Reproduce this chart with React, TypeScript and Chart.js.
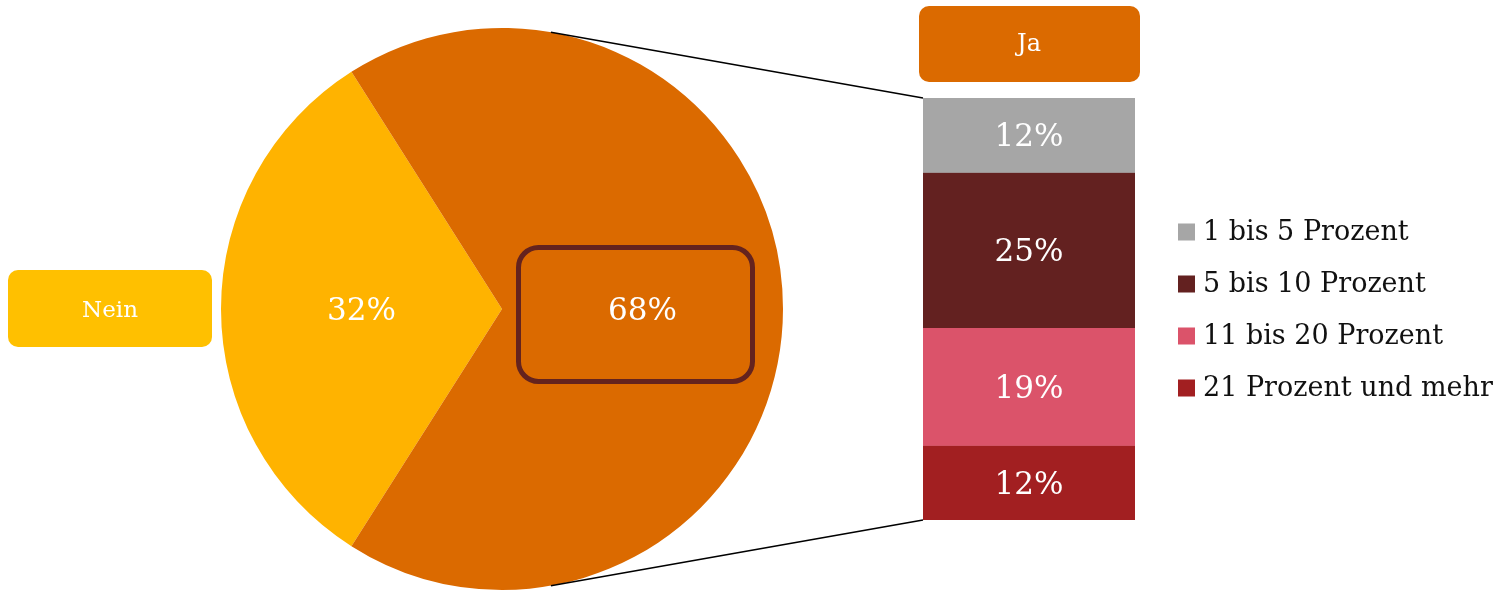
import React, { useEffect, useRef } from "react";
import { Chart, registerables } from "chart.js";

Chart.register(...registerables);

// ---- data ----
const pieLabels = ["Nein", "Ja"];
const pieValues = [32, 68];
const pieColors = ["#FFB300", "#DB6A00"];

const barCategory = ["Ja"];
const barLabels = ["1 bis 5 Prozent", "5 bis 10 Prozent", "11 bis 20 Prozent", "21 Prozent und mehr"];
const barValues = [12, 25, 19, 12];
const barColors = ["#A6A6A6", "#632120", "#DB536A", "#A21F21"];

const FONT = "'DejaVu Serif', 'Liberation Serif', serif";
const W = 1502;
const H = 590;

function roundRect(ctx: CanvasRenderingContext2D, x: number, y: number, w: number, h: number, r: number) {
  ctx.beginPath();
  ctx.moveTo(x + r, y);
  ctx.lineTo(x + w - r, y);
  ctx.arcTo(x + w, y, x + w, y + r, r);
  ctx.lineTo(x + w, y + h - r);
  ctx.arcTo(x + w, y + h, x + w - r, y + h, r);
  ctx.lineTo(x + r, y + h);
  ctx.arcTo(x, y + h, x, y + h - r, r);
  ctx.lineTo(x, y + r);
  ctx.arcTo(x, y, x + r, y, r);
  ctx.closePath();
}

export default function App() {
  const pieRef = useRef<HTMLCanvasElement | null>(null);
  const barRef = useRef<HTMLCanvasElement | null>(null);

  useEffect(() => {
    if (!pieRef.current || !barRef.current) return;
    const pieTotal = pieValues.reduce((a, b) => a + b, 0);
    const neinSweep = (pieValues[0] / pieTotal) * 360;
    const rotation = 180 - neinSweep / 2 + 90;

    const piePlugin = {
      id: "pieDecor",
      afterDatasetsDraw(chart: any) {
        const ctx: CanvasRenderingContext2D = chart.ctx;
        const meta = chart.getDatasetMeta(0);
        ctx.save();
        // "Nein" label box
        ctx.fillStyle = "#FFC000";
        roundRect(ctx, 8, 270, 204, 77, 10);
        ctx.fill();
        ctx.fillStyle = "#FFFFFF";
        ctx.font = `23px ${FONT}`;
        ctx.textAlign = "center";
        ctx.textBaseline = "middle";
        ctx.fillText(pieLabels[0], 110, 311);
        // highlight frame around Ja slice label
        ctx.strokeStyle = "#64231E";
        ctx.lineWidth = 5;
        roundRect(ctx, 518.5, 247.5, 234, 134, 20);
        ctx.stroke();
        // percentage labels
        ctx.font = `31px ${FONT}`;
        ctx.fillStyle = "#FFFFFF";
        meta.data.forEach((arc: any, i: number) => {
          const p = arc.tooltipPosition();
          ctx.fillText(`${pieValues[i]}%`, p.x, p.y + 3);
        });
        ctx.restore();
      },
    };

    const pie = new Chart(pieRef.current, {
      type: "pie",
      data: {
        labels: pieLabels,
        datasets: [{ data: pieValues, backgroundColor: pieColors, borderWidth: 0 }],
      },
      options: {
        responsive: false,
        animation: false,
        devicePixelRatio: 1,
        rotation,
        layout: { padding: { left: 221, right: 719, top: 28, bottom: 0 } },
        plugins: { legend: { display: false }, tooltip: { enabled: false } },
      },
      plugins: [piePlugin],
    } as any);

    const barPlugin = {
      id: "barDecor",
      afterDatasetsDraw(chart: any) {
        const ctx: CanvasRenderingContext2D = chart.ctx;
        const area = chart.chartArea;
        ctx.save();
        // connectors tangent to the pie
        const arc: any = pie.getDatasetMeta(0).data[0];
        const cx = arc.x, cy = arc.y, r = arc.outerRadius;
        const ends = [
          { x: area.left, y: area.top, sign: -1 },
          { x: area.left, y: area.bottom, sign: 1 },
        ];
        ctx.strokeStyle = "#000000";
        ctx.lineWidth = 1.7;
        ends.forEach((e) => {
          const dx = e.x - cx, dy = e.y - cy;
          const d = Math.hypot(dx, dy);
          const base = Math.atan2(dy, dx);
          const off = Math.acos(r / d);
          const a = base + e.sign * off;
          ctx.beginPath();
          ctx.moveTo(cx + r * Math.cos(a), cy + r * Math.sin(a));
          ctx.lineTo(e.x, e.y);
          ctx.stroke();
        });
        // "Ja" header box
        ctx.fillStyle = "#DB6A00";
        roundRect(ctx, 919, 6, 221, 76, 10);
        ctx.fill();
        ctx.fillStyle = "#FFFFFF";
        ctx.font = `24px ${FONT}`;
        ctx.textAlign = "center";
        ctx.textBaseline = "middle";
        ctx.fillText(barCategory[0], (area.left + area.right) / 2, 45);
        // segment labels
        ctx.font = `31px ${FONT}`;
        chart.data.datasets.forEach((_: any, i: number) => {
          const el: any = chart.getDatasetMeta(i).data[0];
          ctx.fillText(`${barValues[i]}%`, el.x, (el.y + el.base) / 2 + 3);
        });
        // legend
        ctx.textAlign = "left";
        ctx.font = `27px ${FONT}`;
        barLabels.forEach((lab, i) => {
          const yc = 232 + i * 52;
          ctx.fillStyle = barColors[i];
          ctx.fillRect(1178, yc - 8.5, 17, 17);
          ctx.fillStyle = "#111111";
          ctx.fillText(lab, 1203, yc + 1);
        });
        ctx.restore();
      },
    };

    const total = barValues.reduce((a, b) => a + b, 0);
    const bar = new Chart(barRef.current, {
      type: "bar",
      data: {
        labels: barCategory,
        datasets: barLabels.map((l, i) => ({
          label: l,
          data: [barValues[i]],
          backgroundColor: barColors[i],
          borderWidth: 0,
          categoryPercentage: 1,
          barPercentage: 1,
        })),
      },
      options: {
        responsive: false,
        animation: false,
        devicePixelRatio: 1,
        layout: { padding: { left: 923, right: 367, top: 98, bottom: 70 } },
        scales: {
          x: { display: false, stacked: true },
          y: { display: false, stacked: true, min: 0, max: total, reverse: true },
        },
        plugins: { legend: { display: false }, tooltip: { enabled: false } },
      },
      plugins: [barPlugin],
    } as any);

    return () => {
      bar.destroy();
      pie.destroy();
    };
  }, []);

  return (
    <div style={{ position: "absolute", left: 0, top: 0, width: W, height: H, background: "#FFFFFF", overflow: "hidden" }}>
      <canvas ref={pieRef} width={W} height={H} style={{ position: "absolute", left: 0, top: 0 }} />
      <canvas ref={barRef} width={W} height={H} style={{ position: "absolute", left: 0, top: 0 }} />
    </div>
  );
}
